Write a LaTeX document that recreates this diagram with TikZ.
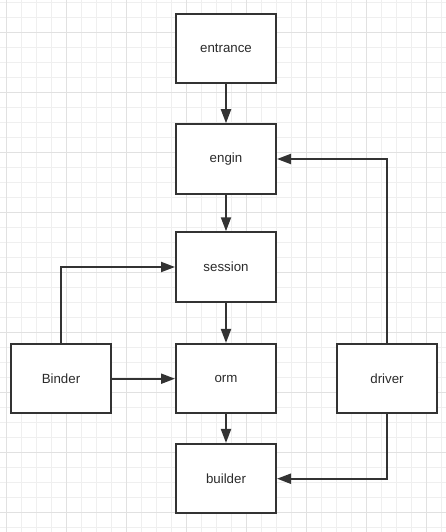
\documentclass[tikz,border=0pt]{standalone}
\usepackage{fontspec}
\setmainfont{Liberation Sans}
\usetikzlibrary{arrows.meta}
\definecolor{ln}{HTML}{333333}
\definecolor{txt}{HTML}{2B2B2B}
\definecolor{gminor}{HTML}{EFEFEF}
\definecolor{gmajor}{HTML}{E1E1E1}
\begin{document}
\begin{tikzpicture}[x=1pt,y=-1pt,
  box/.style={draw=ln, line width=2pt, fill=white, minimum width=100pt, minimum height=69.5pt, inner sep=0pt, font=\fontsize{13.3}{16}\selectfont, text=txt},
  conn/.style={draw=ln, line width=2pt, -{Triangle[length=14pt,width=10pt]}},
  gridminor/.style={draw=gminor, line width=1pt},
  gridmajor/.style={draw=gmajor, line width=1pt}]
\fill[white] (0,0) rectangle (446,532);
\useasboundingbox (0,0) rectangle (446,532);
\foreach \k in {0,...,29} { \draw[gridminor] (6.7+15*\k,0) -- (6.7+15*\k,532); }
\foreach \k in {0,...,35} { \draw[gridminor] (0,2.3+15*\k) -- (446,2.3+15*\k); }
\foreach \k in {0,...,7} { \draw[gridmajor] (6.7+60*\k,0) -- (6.7+60*\k,532); }
\foreach \k in {0,...,8} { \draw[gridmajor] (0,32.3+60*\k) -- (446,32.3+60*\k); }
\node[box] (entrance) at (226,48.7) {entrance};
\node[box] (engin) at (226,159) {engin};
\node[box] (session) at (226,267) {session};
\node[box] (orm) at (226,378.7) {orm};
\node[box] (builder) at (226,478.7) {builder};
\node[box] (binder) at (61,378.7) {Binder};
\node[box] (driver) at (387,378.7) {driver};
\draw[conn] (entrance.south) -- (engin.north);
\draw[conn] (engin.south) -- (session.north);
\draw[conn] (session.south) -- (orm.north);
\draw[conn] (orm.south) -- (builder.north);
\draw[conn] (binder.east) -- (orm.west);
\draw[conn] (binder.north) |- (session.west);
\draw[conn] (driver.north) |- (engin.east);
\draw[conn] (driver.south) |- (builder.east);
\end{tikzpicture}
\end{document}
